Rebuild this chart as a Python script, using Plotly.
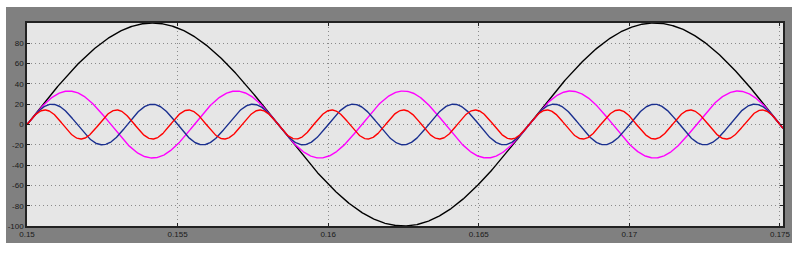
import numpy as np
import plotly.graph_objects as go

# Values
series_names = ["fundamental", "3rd harmonic", "5th harmonic", "7th harmonic"]
harmonic_orders = [1, 3, 5, 7]
peak_values = [100, 33, 20, 14.3]
series_colors = ["#000000", "#ff00ff", "#1a2f8f", "#ff0000"]
fundamental_hz = 60
t_start, t_end = 0.15, 0.1751
x_ticks = [0.15, 0.155, 0.16, 0.165, 0.17, 0.175]
x_tick_labels = ["0.15", "0.155", "0.16", "0.165", "0.17", "0.175"]
y_ticks = [-100, -80, -60, -40, -20, 0, 20, 40, 60, 80, 100]
y_tick_labels = ["-100", "-80", "-60", "-40", "-20", "0", "20", "40", "60", "80", ""]

t = np.linspace(t_start, t_end, 1500)

fig = go.Figure()
for name, n, a, c in zip(series_names, harmonic_orders, peak_values, series_colors):
    fig.add_trace(go.Scatter(x=t, y=a * np.sin(2 * np.pi * fundamental_hz * n * t),
                             mode="lines", name=name, line=dict(color=c, width=1.4)))

W, H = 799, 253
L, R, T, B = 27, 783, 23, 226
axis_common = dict(showgrid=True, gridcolor="#8a8a8a", griddash="1px,3px", gridwidth=1,
                   zeroline=False, ticks="inside", ticklen=3, tickcolor="#222",
                   showline=True, linecolor="#222", linewidth=1.5, mirror="allticks",
                   automargin=False)
fig.update_layout(
    width=W, height=H, margin=dict(l=0, r=0, t=0, b=0),
    paper_bgcolor="white", plot_bgcolor="rgba(0,0,0,0)", showlegend=False,
    font=dict(family="Liberation Sans", size=8, color="#1a1a1a"),
    xaxis=dict(domain=[L / W, R / W], range=[t_start, t_end], tickvals=x_ticks,
               ticktext=x_tick_labels, **axis_common),
    yaxis=dict(domain=[1 - B / H, 1 - T / H], range=[-100, 100], tickvals=y_ticks,
               ticktext=y_tick_labels, **axis_common),
    shapes=[dict(type="rect", xref="paper", yref="paper", layer="below",
                 x0=6 / W, x1=792 / W, y0=1 - 243 / H, y1=1 - 7 / H,
                 fillcolor="#808080", line=dict(width=0)),
            dict(type="rect", xref="paper", yref="paper", layer="below",
                 x0=L / W, x1=R / W, y0=1 - B / H, y1=1 - T / H,
                 fillcolor="#e6e6e6", line=dict(width=0))],
)
fig.write_html("out.html")
